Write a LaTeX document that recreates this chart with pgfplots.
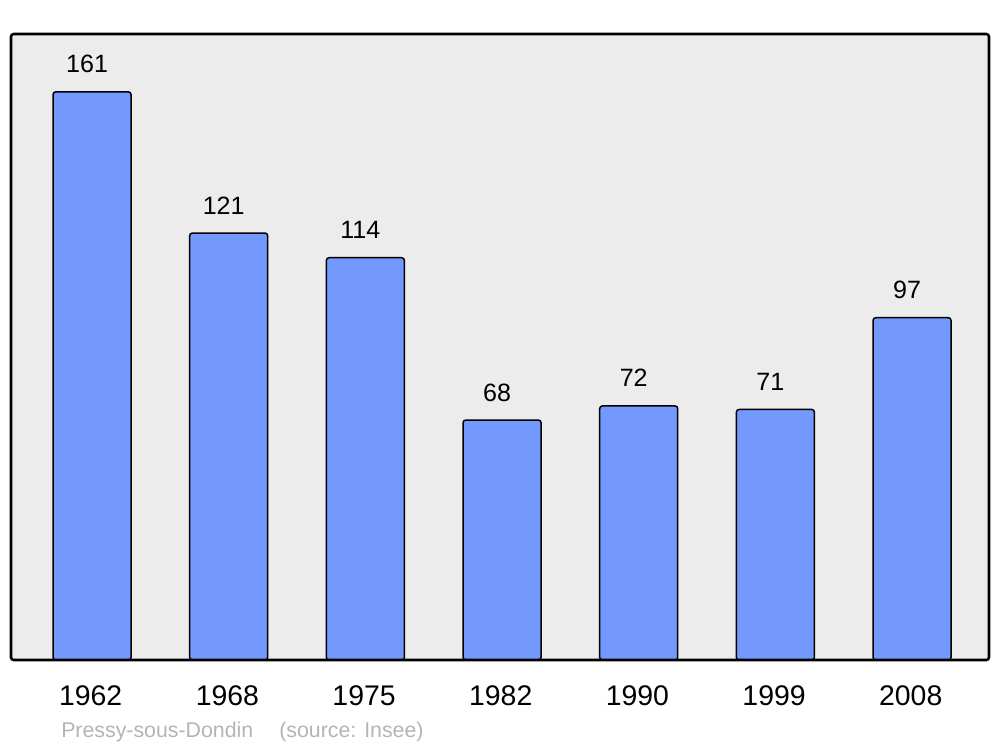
\documentclass[border=0pt]{standalone}
\usepackage{fontspec}
\setmainfont{Liberation Sans}
\usepackage{pgfplots}
\pgfplotsset{compat=1.18}
\definecolor{bgc}{HTML}{ECECEC}
\definecolor{barc}{HTML}{7399FF}
\definecolor{foot}{HTML}{B4B4B4}
\begin{document}
\begin{tikzpicture}
\path[use as bounding box] (-8.25pt,-65.25pt) rectangle (741.75pt,495pt);
\begin{axis}[
  at={(0pt,0pt)}, anchor=south west,
  scale only axis, width=733.5pt, height=469.5pt,
  xmin=-0.593, xmax=6.563, ymin=0, ymax=177.4,
  /pgf/number format/assume math mode=true,
  axis background/.style={fill=bgc},
  axis line style={line width=1.9pt, rounded corners=2pt},
  axis on top,
  xtick={0,1,2,3,4,5,6},
  xticklabels={1962,1968,1975,1982,1990,1999,2008},
  ytick=\empty,
  major tick length=0pt,
  xticklabel style={font=\fontsize{21.3}{25}\selectfont, anchor=base, yshift=-33.75pt, xshift=-1pt},
  ybar, bar width=58.5pt, bar shift=0pt,
  nodes near coords,
  every node near coord/.append style={font=\fontsize{18.8}{22}\selectfont, black, anchor=base, yshift=14.25pt, xshift=-3.75pt},
]
\addplot[fill=barc, draw=black, line width=1.1pt, rounded corners=2pt] coordinates {
(0,161) (1,121) (2,114) (3,68) (4,72) (5,71) (6,97)};
\end{axis}
\node[anchor=base west, text=foot, font=\fontsize{16}{19}\selectfont, inner sep=0pt] at (37.5pt,-57.75pt) {Pressy-sous-Dondin\hspace{19.5pt}(source: Insee)};
\end{tikzpicture}
\end{document}
